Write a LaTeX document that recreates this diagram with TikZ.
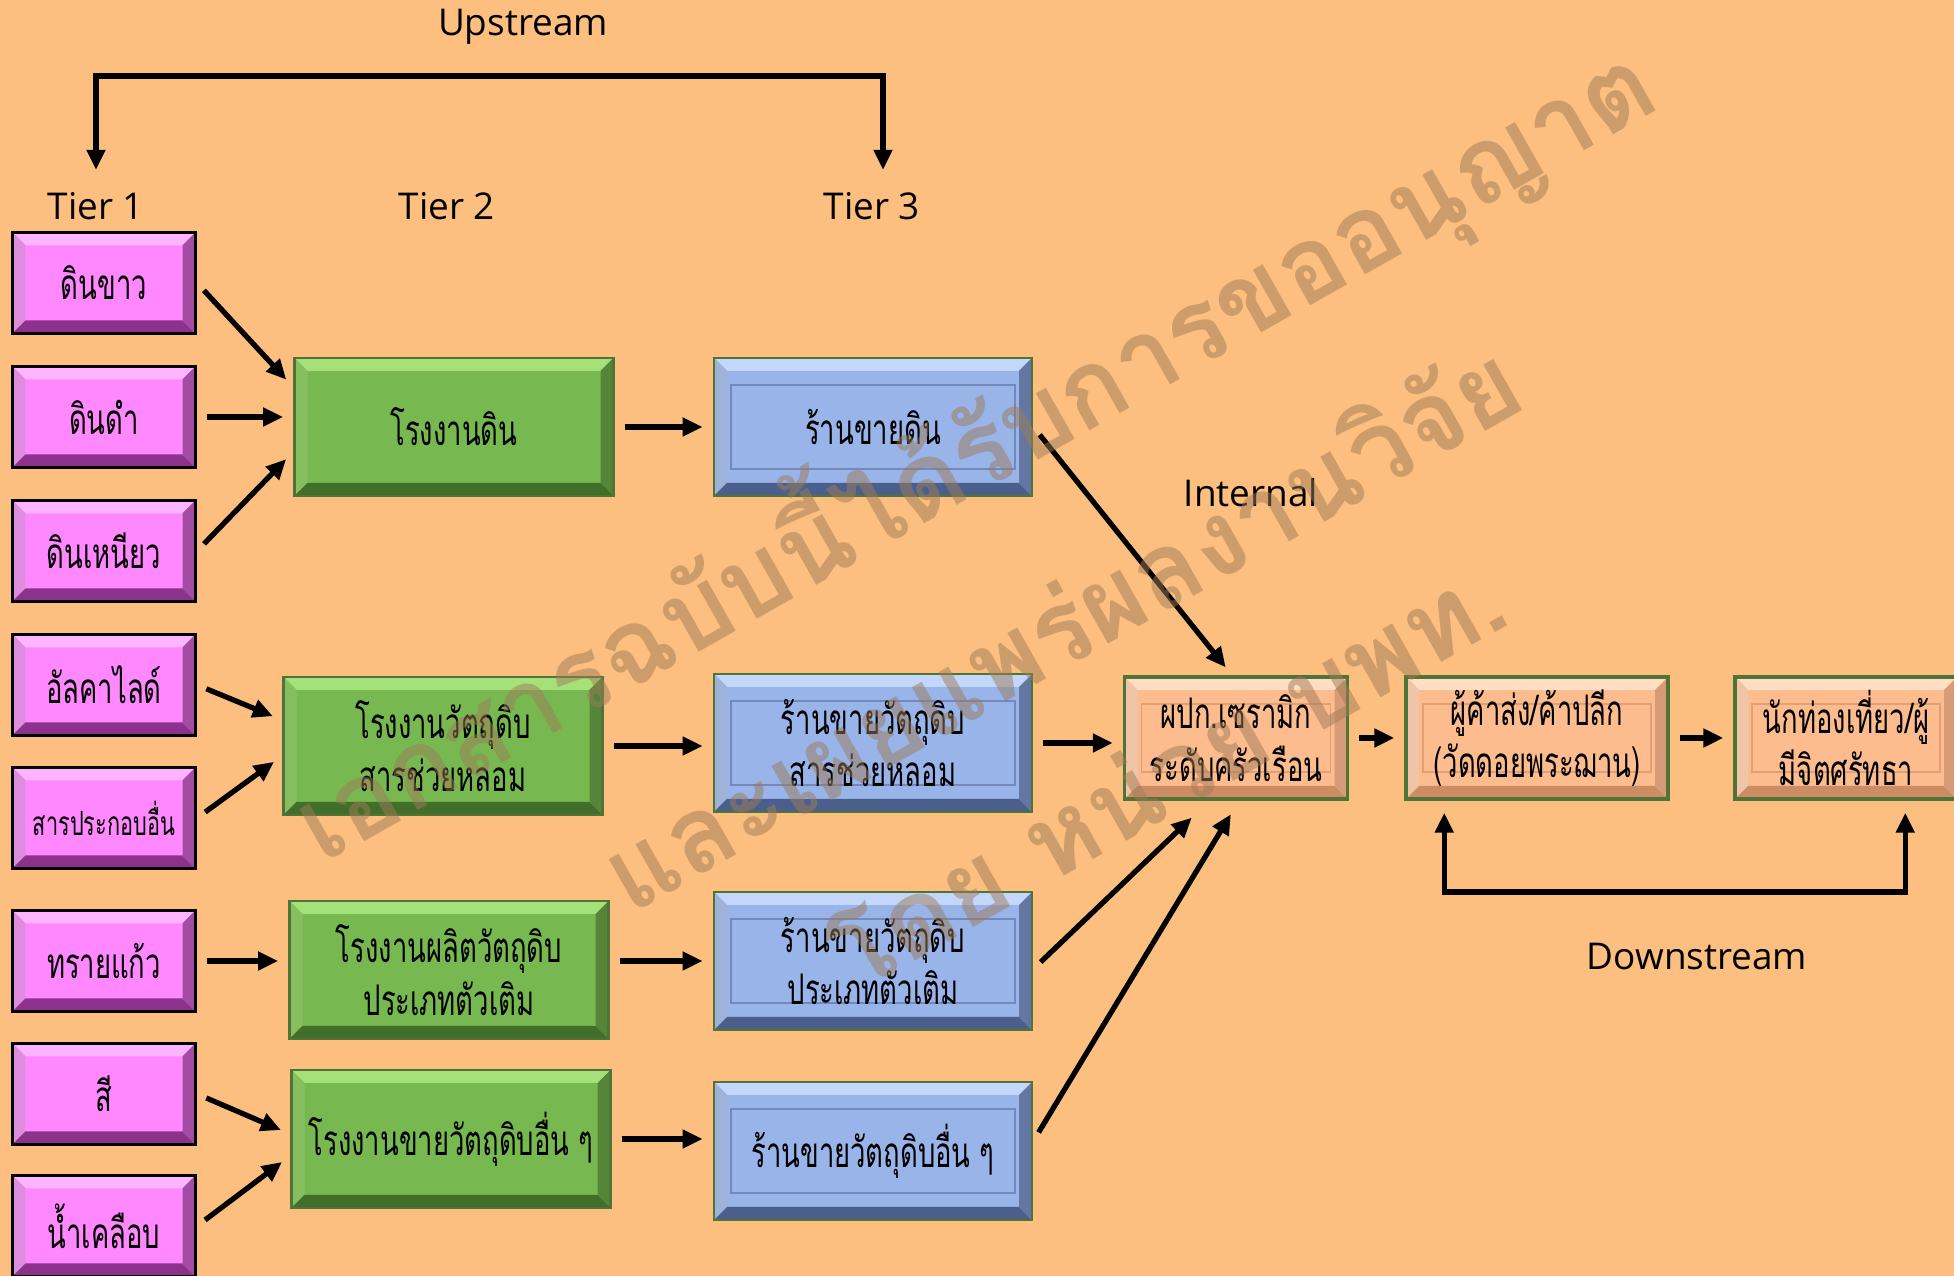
\documentclass[tikz,border=0pt]{standalone}
\usepackage{fontspec}
\newfontfamily\thaifont[Script=Thai, FakeStretch=0.65]{Loma}
\newfontfamily\markfont[Script=Thai]{Loma}
\newfontfamily\labelfont{Open Sans}
\usetikzlibrary{arrows.meta}

\definecolor{bgorange}{RGB}{252,191,127}
\definecolor{pinkfill}{RGB}{255,136,255}
\definecolor{pinklt}{RGB}{255,180,255}
\definecolor{pinkdk}{RGB}{140,50,140}
\definecolor{greenfill}{RGB}{119,185,80}
\definecolor{greenlt}{RGB}{165,225,120}
\definecolor{greendk}{RGB}{65,110,40}
\definecolor{bluefill}{RGB}{153,180,232}
\definecolor{bluelt}{RGB}{195,215,250}
\definecolor{bluedk}{RGB}{75,95,140}
\definecolor{orangefill}{RGB}{252,188,142}
\definecolor{orangelt}{RGB}{255,222,195}
\definecolor{orangedk}{RGB}{205,140,100}
\definecolor{boxedge}{RGB}{80,115,55}
\definecolor{wmbrown}{RGB}{158,123,89}

\def\bw{0.13}
\tikzset{
  bevel/.style n args={3}{path picture={
    \coordinate (pbsw) at (path picture bounding box.south west);
    \coordinate (pbne) at (path picture bounding box.north east);
    \coordinate (pbnw) at (path picture bounding box.north west);
    \coordinate (pbse) at (path picture bounding box.south east);
    % top and left light, bottom and right dark
    \fill[#1] (pbnw) -- (pbne) -- ([shift={(-\bw,-\bw)}]pbne) -- ([shift={(\bw,-\bw)}]pbnw) -- cycle;
    \fill[#1!70!#2] (pbnw) -- (pbsw) -- ([shift={(\bw,\bw)}]pbsw) -- ([shift={(\bw,-\bw)}]pbnw) -- cycle;
    \fill[#2] (pbsw) -- (pbse) -- ([shift={(-\bw,\bw)}]pbse) -- ([shift={(\bw,\bw)}]pbsw) -- cycle;
    \fill[#2!80!#1] (pbse) -- (pbne) -- ([shift={(-\bw,-\bw)}]pbne) -- ([shift={(-\bw,\bw)}]pbse) -- cycle;
    \draw[#3] ([shift={(0.17,-0.27)}]pbnw) rectangle ([shift={(-0.17,0.27)}]pbse);
  }},
  box/.style={rectangle, inner sep=0pt, align=center, font=\thaifont\fontsize{12}{15}\selectfont},
  pinkbox/.style={box, fill=pinkfill, draw=black, line width=0.9pt, minimum width=1.83cm, minimum height=1.01cm, bevel={pinklt}{pinkdk}{draw=none}},
  greenbox/.style={box, fill=greenfill, draw=boxedge, line width=0.8pt, minimum width=3.19cm, minimum height=1.38cm, bevel={greenlt}{greendk}{draw=none}},
  bluebox/.style={box, fill=bluefill, draw=boxedge, line width=0.8pt, minimum width=3.18cm, minimum height=1.38cm, bevel={bluelt}{bluedk}{draw=bluedk!50!bluefill, line width=0.5pt}},
  orangebox/.style={box, fill=orangefill, draw=boxedge, line width=1pt, minimum height=1.22cm, bevel={orangelt}{orangedk}{draw=orangedk!60!orangefill, line width=0.5pt}},
  lbl/.style={font=\labelfont\fontsize{10.5}{12}\selectfont},
  arr/.style={->, line width=1.5pt, shorten <=1mm, shorten >=1mm},
  wmark/.style={font=\markfont\bfseries\fontsize{30}{34}\selectfont, text=wmbrown, text opacity=0.5, rotate=29.5},
  >={Triangle[length=2mm, width=1.8mm]}
}

\begin{document}
\begin{tikzpicture}
    \useasboundingbox (0,0) rectangle (19.54,12.76);
    \fill[bgorange] (0,0) rectangle (19.54,12.76);

    % upstream side
    \node[lbl] (upstream) at (5.23,12.49) {Upstream};
    \node[lbl] (tier1) at (0.96,10.70) {Tier 1};
    \node[lbl] (tier2) at (4.47,10.70) {Tier 2};
    \node[lbl] (tier3) at (8.72,10.70) {Tier 3};
    \coordinate (uptop) at (4.9,12.0);
    \draw[arr, <->] (tier1.north) |- (uptop) -| ([xshift=1.1mm]tier3.north);

    % tier 1
    \node[pinkbox] (p1) at (1.04,9.93) {ดินขาว};
    \node[pinkbox] (p2) at (1.04,8.59) {ดินดำ};
    \node[pinkbox] (p3) at (1.04,7.25) {ดินเหนียว};
    \node[pinkbox] (p4) at (1.04,5.91) {อัลคาไลด์};
    \node[pinkbox, font=\thaifont\fontsize{9.5}{12}\selectfont] (p5) at (1.04,4.58) {สารประกอบอื่น};
    \node[pinkbox] (p6) at (1.04,3.15) {ทรายแก้ว};
    \node[pinkbox] (p7) at (1.04,1.82) {สี};
    \node[pinkbox] (p8) at (1.04,0.50) {น้ำเคลือบ};

    % tier 2
    \node[greenbox] (g1) at (4.54,8.49) {โรงงานดิน};
    \node[greenbox] (g2) at (4.43,5.30) {โรงงานวัตถุดิบ\\สารช่วยหลอม};
    \node[greenbox] (g3) at (4.49,3.06) {โรงงานผลิตวัตถุดิบ\\ประเภทตัวเติม};
    \node[greenbox] (g4) at (4.51,1.37) {โรงงานขายวัตถุดิบอื่น ๆ};

    % tier 3
    \node[bluebox] (b1) at (8.73,8.49) {ร้านขายดิน};
    \node[bluebox] (b2) at (8.73,5.33) {ร้านขายวัตถุดิบ\\สารช่วยหลอม};
    \node[bluebox] (b3) at (8.73,3.15) {ร้านขายวัตถุดิบ\\ประเภทตัวเติม};
    \node[bluebox] (b4) at (8.73,1.25) {ร้านขายวัตถุดิบอื่น ๆ};

    % internal and downstream
    \node[lbl] (internal) at (12.51,7.83) {Internal};
    \node[orangebox, minimum width=2.23cm] (o1) at (12.36,5.38) {ผปก.เซรามิก\\ระดับครัวเรือน};
    \node[orangebox, minimum width=2.62cm] (o2) at (15.37,5.38) {ผู้ค้าส่ง/ค้าปลีก\\(วัดดอยพระฌาน)};
    \node[orangebox, minimum width=2.22cm] (o3) at (18.46,5.38) {นักท่องเที่ยว/ผู้\\มีจิตศรัทธา};
    \node[lbl] (downstream) at (16.97,3.19) {Downstream};
    \coordinate (downbot) at (16.7,3.84);
    \draw[arr, <->, shorten <=1.2mm, shorten >=1.2mm] ([xshift=4mm]o2.south west) |- (downbot) -| ([xshift=17.2mm]o3.south west);

    % flows
    \draw[arr] (p1.east) -- ([yshift=4mm]g1.west);
    \draw[arr] (p2.east) -- (p2.east -| g1.west);
    \draw[arr] (p3.east) -- ([yshift=-2.5mm]g1.west);
    \draw[arr] (g1) -- (b1);
    \draw[arr] (b1.east) -- ([xshift=-0.4mm]o1.north);
    \draw[arr] (p4.east) -- ([yshift=2.6mm]g2.west);
    \draw[arr] (p5.east) -- ([yshift=-1mm]g2.west);
    \draw[arr] (g2.east) -- (g2.east -| b2.west);
    \draw[arr] (b2.east) -- (b2.east -| o1.west);
    \draw[arr] (p6.east) -- (p6.east -| g3.west);
    \draw[arr] (g3.east |- b3.west) -- (b3.west);
    \draw[arr] ([yshift=-0.8mm]b3.east) -- ([xshift=-3.7mm, yshift=-1mm]o1.south);
    \draw[arr] (p7.east) -- ([yshift=0.5mm]g4.west);
    \draw[arr] (p8.east) -- ([yshift=-1.7mm]g4.west);
    \draw[arr] (g4.east) -- (g4.east -| b4.west);
    \draw[arr] ([yshift=1mm]b4.east) -- ([yshift=-0.5mm]o1.south);
    \draw[arr] (o1) -- (o2);
    \draw[arr] (o2) -- (o3);

    % watermark
    \node[wmark] (wm1) at (9.72,8.27) {เอกสารฉบับนี้ได้รับการขออนุญาต};
    \node[wmark] (wm2) at (10.59,6.53) {และเผยแพร่ผลงานวิจัย};
    \node[wmark] (wm3) at (11.65,5.03) {โดย หน่วย บพท.};
\end{tikzpicture}
\end{document}
